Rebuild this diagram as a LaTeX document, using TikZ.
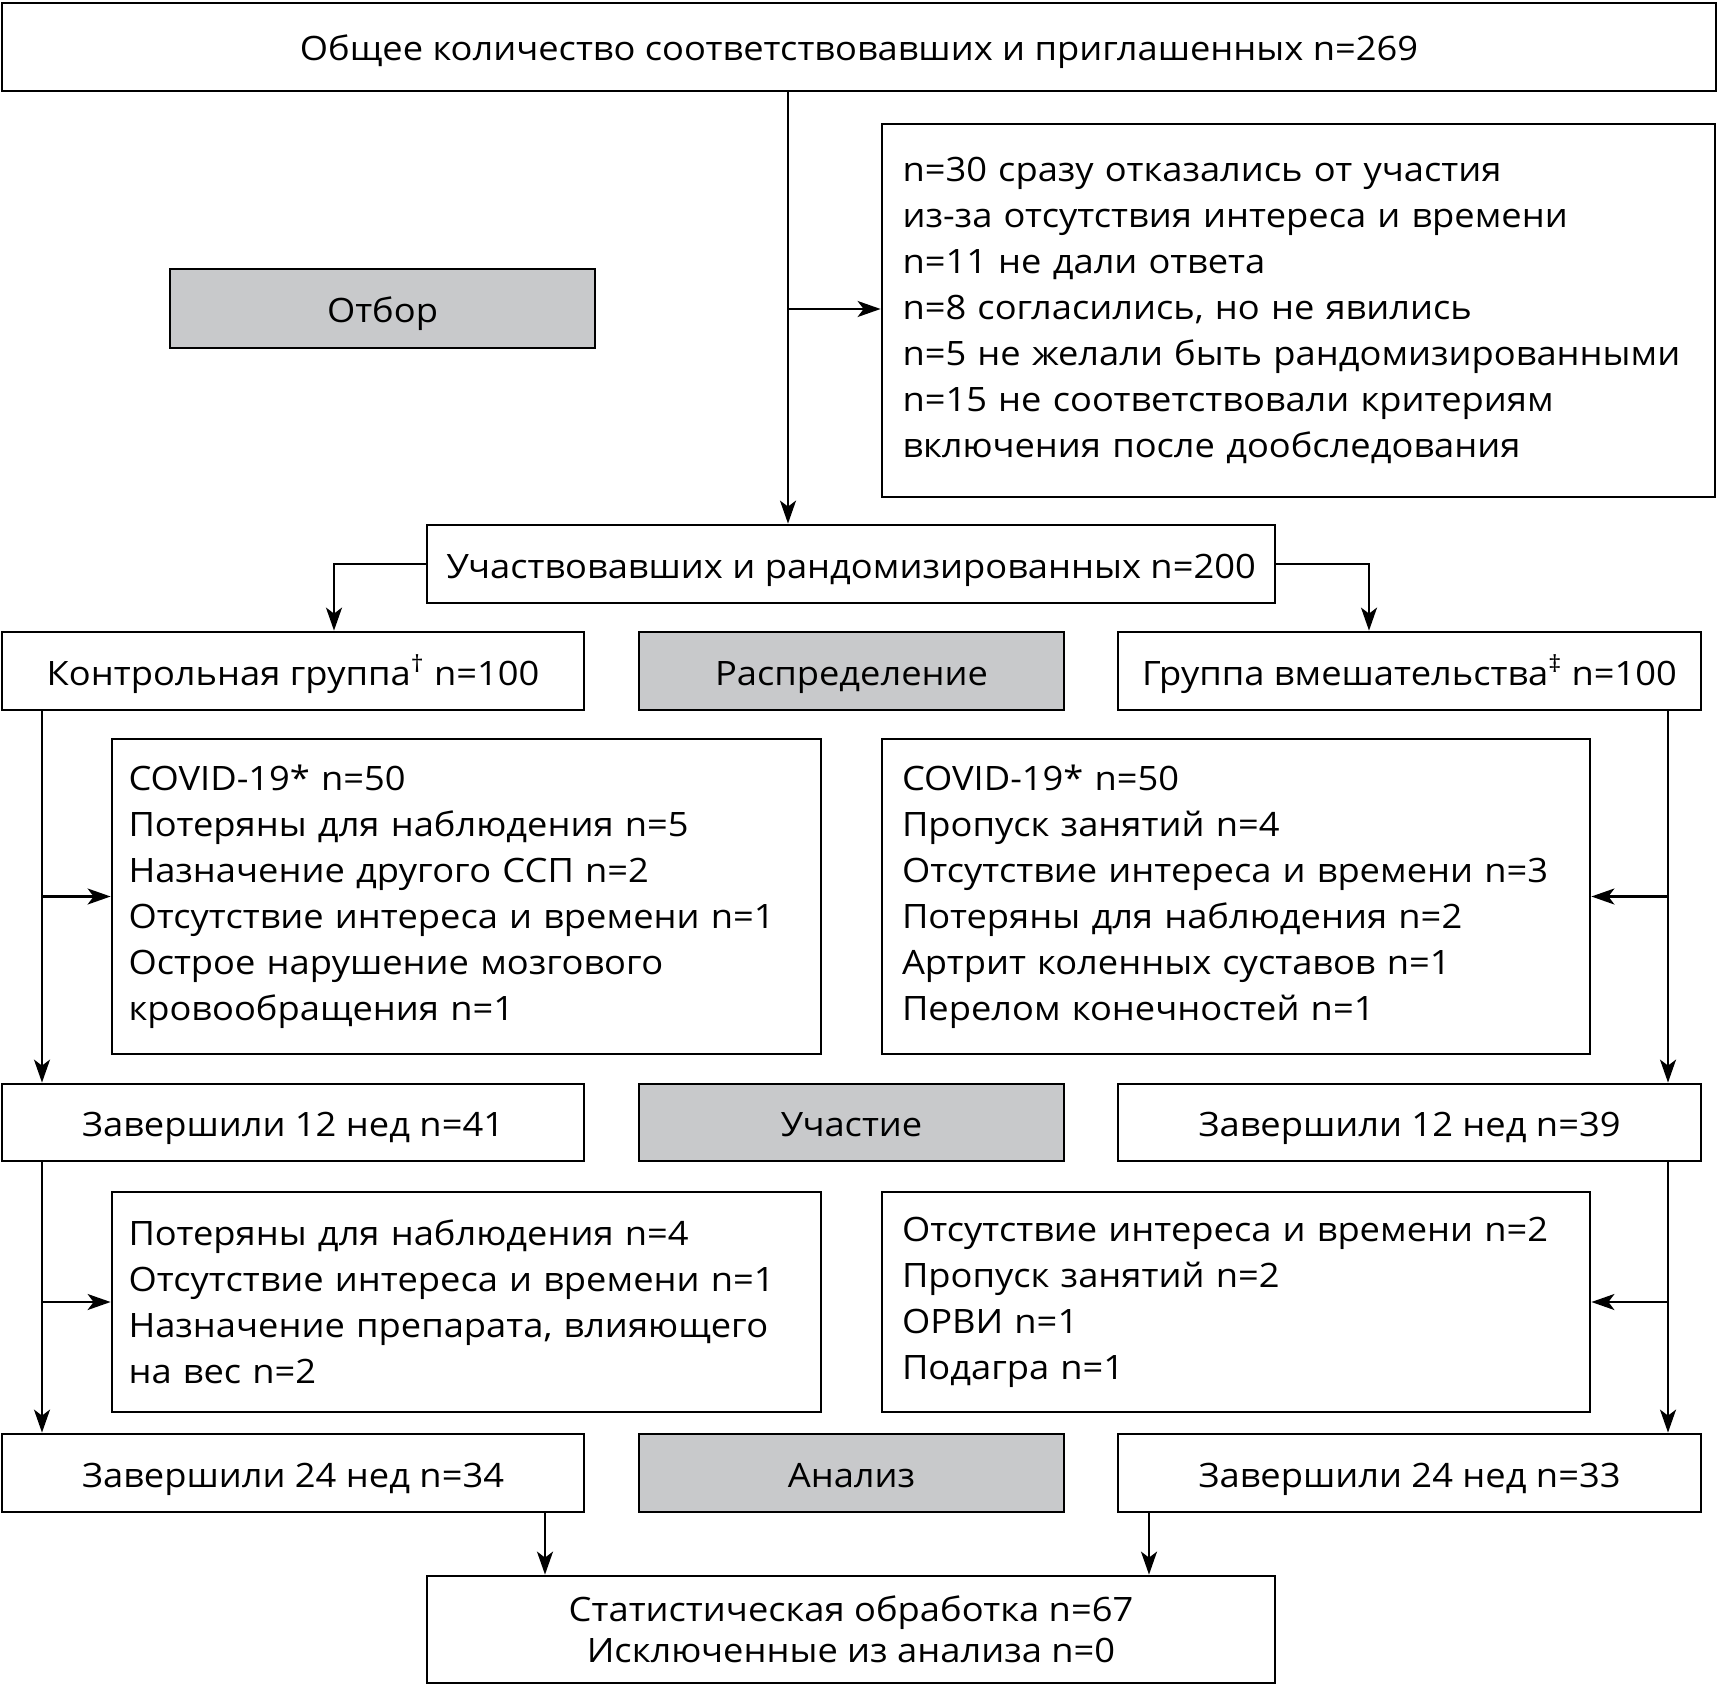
\documentclass[tikz,border=0pt]{standalone}
\usepackage{fontspec}
\setmainfont[FakeStretch=1.08]{Open Sans}
\usetikzlibrary{arrows.meta}
\definecolor{boxgray}{HTML}{C8C9CB}
\tikzset{
  box/.style={draw, line width=1.4pt, inner sep=0pt, font=\fontsize{16.8}{23}\selectfont, align=center},
  one/.style={box, text height=15pt, text depth=1pt},
  gbox/.style={one, fill=boxgray},
  lbox/.style={box, align=left},
  arr/.style={line width=1.1pt, -{Stealth[length=11.5pt,width=8pt,inset=3pt]}}
}
\begin{document}
\begin{tikzpicture}[x=0.5pt,y=-0.5pt]
\useasboundingbox (0,0) rectangle (1718,1685);
\node[one, minimum width=857pt, minimum height=44pt] (top) at (859,47) {Общее количество соответствовавших и приглашенных n=269};
\node[gbox, minimum width=212.5pt, minimum height=39.5pt] (otbor) at (382.5,308.5) {Отбор};
\node[lbox, minimum width=416.5pt, minimum height=186.5pt, text width=396pt, inner xsep=10.25pt] (excl0) at (1298.5,310.5) {n=30 сразу отказались от участия\\из-за отсутствия интереса и времени\\n=11 не дали ответа\\n=8 согласились, но не явились\\n=5 не желали быть рандомизированными\\n=15 не соответствовали критериям\\включения после дообследования};
\node[one, minimum width=424pt, minimum height=39pt] (rand) at (851,564) {Участвовавших и рандомизированных n=200};
\node[one, minimum width=291pt, minimum height=39pt] (ctrl) at (293,671) {Контрольная группа\textsuperscript{†} n=100};
\node[gbox, minimum width=212.5pt, minimum height=39pt] (raspr) at (851.5,671) {Распределение};
\node[one, minimum width=291.5pt, minimum height=39pt] (interv) at (1409.5,671) {Группа вмешательства\textsuperscript{‡} n=100};
\node[lbox, minimum width=354.5pt, minimum height=157.5pt, text width=338pt, inner xsep=8.25pt] (exclL1) at (466.5,896.5) {COVID-19* n=50\\Потеряны для наблюдения n=5\\Назначение другого ССП n=2\\Отсутствие интереса и времени n=1\\Острое нарушение мозгового\\кровообращения n=1};
\node[lbox, minimum width=354pt, minimum height=157.5pt, text width=334pt, inner xsep=10pt] (exclR1) at (1236,896.5) {COVID-19* n=50\\Пропуск занятий n=4\\Отсутствие интереса и времени n=3\\Потеряны для наблюдения n=2\\Артрит коленных суставов n=1\\Перелом конечностей n=1};
\node[one, minimum width=291pt, minimum height=38.5pt] (d12L) at (293,1122.5) {Завершили 12 нед n=41};
\node[gbox, minimum width=212.5pt, minimum height=38.5pt] (uch) at (851.5,1122.5) {Участие};
\node[one, minimum width=291.5pt, minimum height=38.5pt] (d12R) at (1409.5,1122.5) {Завершили 12 нед n=39};
\node[lbox, minimum width=354.5pt, minimum height=110pt, text width=338pt, inner xsep=8.25pt] (exclL2) at (466.5,1302) {Потеряны для наблюдения n=4\\Отсутствие интереса и времени n=1\\Назначение препарата, влияющего\\на вес n=2};
\node[lbox, minimum width=354pt, minimum height=110pt, text width=334pt, inner xsep=10pt] (exclR2) at (1236,1302) {Отсутствие интереса и времени n=2\\Пропуск занятий n=2\\ОРВИ n=1\\Подагра n=1};
\node[one, minimum width=291pt, minimum height=39pt] (d24L) at (293,1473) {Завершили 24 нед n=34};
\node[gbox, minimum width=212.5pt, minimum height=39pt] (anal) at (851.5,1473) {Анализ};
\node[one, minimum width=291.5pt, minimum height=39pt] (d24R) at (1409.5,1473) {Завершили 24 нед n=33};
\node[box, minimum width=424pt, minimum height=53.5pt, font=\fontsize{16.8}{20.5}\selectfont] (stat) at (851,1629.5) {Статистическая обработка n=67\\Исключенные из анализа n=0};
% connectors
\coordinate (j1) at (788,309);
\draw[arr] (j1 |- top.south) -- (j1 |- rand.north);
\draw[arr] (j1) -- (j1 -| excl0.west);
\coordinate (bL) at (334,564);
\coordinate (bR) at (1369,564);
\draw[arr] (rand.west) -| (bL |- ctrl.north);
\draw[arr] (rand.east) -| (bR |- interv.north);
\coordinate (cL) at (42,0);
\coordinate (cR) at (1668,0);
\draw[arr] (cL |- ctrl.south) -- (cL |- d12L.north);
\draw[arr] (cL |- exclL1.west) -- (exclL1.west);
\draw[arr] (cR |- interv.south) -- (cR |- d12R.north);
\draw[arr] (cR |- exclR1.east) -- (exclR1.east);
\draw[arr] (cL |- d12L.south) -- (cL |- d24L.north);
\draw[arr] (cL |- exclL2.west) -- (exclL2.west);
\draw[arr] (cR |- d12R.south) -- (cR |- d24R.north);
\draw[arr] (cR |- exclR2.east) -- (exclR2.east);
\coordinate (sL) at (545,0);
\coordinate (sR) at (1149,0);
\draw[arr] (sL |- d24L.south) -- (sL |- stat.north);
\draw[arr] (sR |- d24R.south) -- (sR |- stat.north);
\end{tikzpicture}
\end{document}
